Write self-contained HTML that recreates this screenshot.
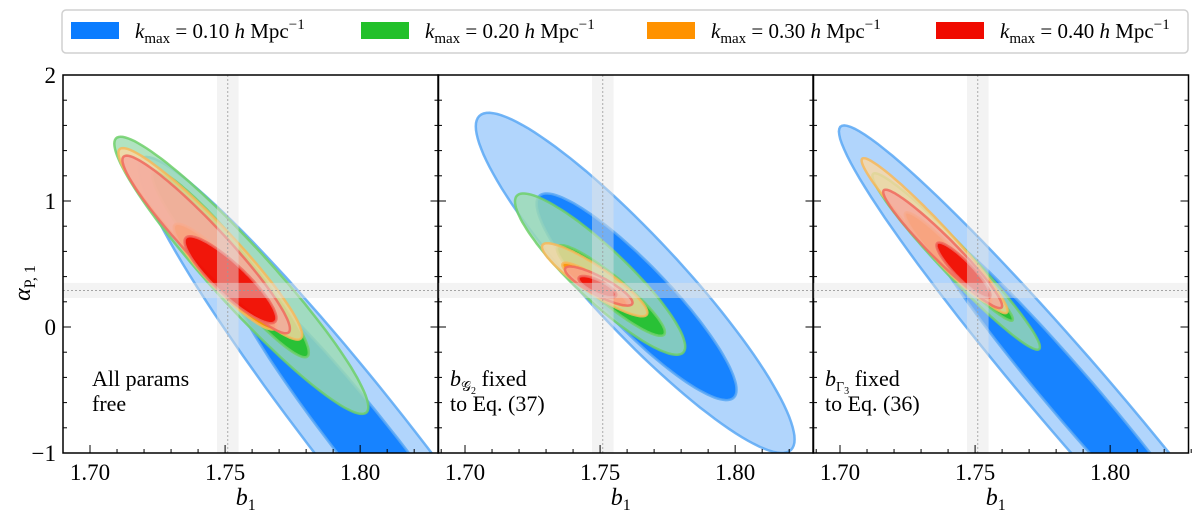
<!DOCTYPE html>
<html><head><meta charset="utf-8"><style>
html,body{margin:0;padding:0;background:#fff;width:1200px;height:518px;overflow:hidden;}
svg{display:block;}
text{font-family:"Liberation Serif","DejaVu Serif",serif;}
</style></head><body>
<svg id="chart" width="1200" height="518" viewBox="0 0 1200 518" xmlns="http://www.w3.org/2000/svg" font-family="Liberation Serif, serif">
<g id="legend">
<rect x="62" y="10" width="1126" height="43" rx="4" fill="#fff" stroke="#d0d0d0" stroke-width="1.5"/>
</g>
<g id="panels"></g>
<text transform="translate(30,283) rotate(-90)" text-anchor="middle" font-size="24" font-style="italic">α<tspan font-style="normal" font-size="16" dy="5">P, 1</tspan></text>
</svg>
<script>
// categories
const kmaxLabels = ["0.10", "0.20", "0.30", "0.40"];
const colors = ["#0a7cff", "#22c02a", "#ff9200", "#f00a00"];
const lightColors = ["#9ecbfb", "#9edcb2", "#fcd7a2", "#f6a89e"];
const edgeColors = ["#5aa8f5", "#6fd06a", "#f7b95a", "#f06a5e"];
const panelTitles = [["All params", "free"], ["b_G2 fixed", "to Eq. (37)"], ["b_G3 fixed", "to Eq. (36)"]];
const xTicks = [1.70, 1.75, 1.80];
const xTickLabels = ["1.70", "1.75", "1.80"];
const yTicks = [2, 1, 0, -1];
const yTickLabels = ["2", "1", "0", "\u22121"];
const fiducialB1 = 1.751;
const fiducialB1Err = 0.004;
const fiducialAlpha = 0.29;
const fiducialAlphaErr = 0.06;
// contours per panel: [kmaxIndex, level(0 outer,1 inner), cx, cy, ax, ay, rho]
const panel1Contours = [
 [0,0,1.803,-0.95,0.085,2.3,-0.967],[0,1,1.803,-0.95,0.052,1.4,-0.967],
 [1,0,1.756,0.41,0.047,1.1,-0.95],[1,1,1.752,0.5,0.029,0.74,-0.95],
 [2,0,1.7445,0.66,0.034,0.76,-0.95],[2,1,1.75,0.4,0.019,0.42,-0.92],
 [3,0,1.743,0.655,0.031,0.705,-0.95],[3,1,1.752,0.375,0.017,0.345,-0.88]];
const panel2Contours = [
 [0,0,1.763,0.35,0.059,1.35,-0.92],[0,1,1.7635,0.24,0.037,0.82,-0.9],
 [1,0,1.750,0.42,0.0315,0.64,-0.9],[1,1,1.754,0.29,0.02,0.36,-0.92],
 [2,0,1.748,0.375,0.0195,0.29,-0.9],[2,1,1.748,0.34,0.012,0.17,-0.9],
 [3,0,1.7495,0.325,0.0125,0.155,-0.85],[3,1,1.749,0.32,0.007,0.085,-0.75]];
const panel3Contours = [
 [0,0,1.788,-0.6,0.0884,2.2,-0.978],[0,1,1.788,-0.6,0.056,1.4,-0.978],
 [1,0,1.743,0.52,0.031,0.70,-0.97],[1,1,1.745,0.45,0.019,0.4,-0.97],
 [2,0,1.735,0.725,0.027,0.615,-0.97],[2,1,1.74,0.55,0.016,0.36,-0.95],
 [3,0,1.738,0.62,0.022,0.47,-0.96],[3,1,1.7457,0.45,0.01,0.22,-0.9]];
const allContours = [panel1Contours, panel2Contours, panel3Contours];

const NS = "http://www.w3.org/2000/svg";
const panelsG = document.getElementById("panels");
const legend = document.getElementById("legend");
const panelLeft = [63, 438, 813], panelW = 375.5, topY = 75, bottomY = 453;
const xMin = 1.69, xMax = 1.829, yMin = -1, yMax = 2;
function mk(tag, attrs, parent){const e=document.createElementNS(NS,tag);for(const k in attrs)e.setAttribute(k,attrs[k]);parent.appendChild(e);return e;}

const legX = [71, 361, 647, 936];
kmaxLabels.forEach((lab,i)=>{
  const r = mk("rect",{x:legX[i],y:22,width:48,height:17,fill:colors[i]},legend);
  
  
  const t = mk("text",{x:legX[i]+64,y:38,"font-size":21},legend);
  
  
  t.innerHTML = '<tspan font-style="italic">k</tspan><tspan font-size="15" dy="5">max</tspan><tspan dy="-5"> = '+lab+' </tspan><tspan font-style="italic">h</tspan><tspan> Mpc</tspan><tspan font-size="15" dy="-9">\u22121</tspan>';
});

allContours.forEach((contours,p)=>{
  const L = panelLeft[p];
  const sx = v => L + (v - xMin)/(xMax - xMin)*panelW;
  const sy = v => topY + (yMax - v)/(yMax - yMin)*(bottomY - topY);
  const g = mk("g",{},panelsG);
  
  
  const cp = mk("clipPath",{id:"clip"+p},g);
  mk("rect",{x:L,y:topY,width:panelW,height:bottomY-topY},cp);
  const cg = mk("g",{"clip-path":"url(#clip"+p+")"},g);
  contours.forEach(c=>{
    const [ki,lev,cx,cy,ax,ay,rho]=c;
    let d="";
    const s=Math.sqrt(1-rho*rho);
    for(let j=0;j<=120;j++){const t=j/120*2*Math.PI;
      const x=cx+ax*Math.cos(t), y=cy+ay*(rho*Math.cos(t)+s*Math.sin(t));
      d+=(j?"L":"M")+sx(x).toFixed(1)+","+sy(y).toFixed(1);}
    const path = mk("path",{d:d+"Z",fill:lev?colors[ki]:lightColors[ki],"fill-opacity":lev?0.92:0.8,stroke:edgeColors[ki],"stroke-opacity":0.85,"stroke-width":2.5},cg);
    
    
  });
  const vb = mk("rect",{x:sx(fiducialB1-fiducialB1Err),y:topY,width:sx(fiducialB1+fiducialB1Err)-sx(fiducialB1-fiducialB1Err),height:bottomY-topY,fill:"#e4e4e4","fill-opacity":0.45},cg);
  
  
  const hb = mk("rect",{x:L,y:sy(fiducialAlpha+fiducialAlphaErr),width:panelW,height:sy(fiducialAlpha-fiducialAlphaErr)-sy(fiducialAlpha+fiducialAlphaErr),fill:"#e4e4e4","fill-opacity":0.45},cg);
  
  
  mk("line",{x1:sx(fiducialB1),x2:sx(fiducialB1),y1:topY,y2:bottomY,stroke:"#999","stroke-width":0.8,"stroke-dasharray":"2,2"},cg);
  mk("line",{x1:L,x2:L+panelW,y1:sy(fiducialAlpha),y2:sy(fiducialAlpha),stroke:"#999","stroke-width":0.8,"stroke-dasharray":"2,2"},cg);
  for(let v=1.69;v<=1.83;v+=0.01){const X=sx(Math.round(v*100)/100);const maj=Math.abs(Math.round(v*100)%5)<1e-6;
    mk("line",{x1:X,x2:X,y1:bottomY,y2:bottomY-(maj?8:4),stroke:"#000","stroke-width":1},g);}
  for(let v=-1;v<=2.0001;v+=0.2){const Y=sy(v);const maj=Math.abs(v-Math.round(v))<1e-6;
    mk("line",{x1:L,x2:L+(maj?8:4),y1:Y,y2:Y,stroke:"#000","stroke-width":1},g);
    mk("line",{x1:L+panelW,x2:L+panelW-(maj?8:4),y1:Y,y2:Y,stroke:"#000","stroke-width":1},g);}
  const fr = mk("rect",{x:L,y:topY,width:panelW,height:bottomY-topY,fill:"none",stroke:"#000","stroke-width":1.5},g);
  
  
  xTicks.forEach((v,i)=>{const t=mk("text",{x:sx(v),y:480,"text-anchor":"middle","font-size":23},g);
    
    
    t.textContent=xTickLabels[i];});
  const xl = mk("text",{x:L+panelW/2-5,y:505,"text-anchor":"middle","font-size":24,"font-style":"italic"},g);
  
  
  xl.innerHTML='b<tspan font-style="normal" font-size="16" dy="5">1</tspan>';
  if(p===0){yTicks.forEach((v,i)=>{const t=mk("text",{x:56,y:sy(v)+8,"text-anchor":"end","font-size":23},g);
    
    
    t.textContent=yTickLabels[i];});}
  const ann = mk("text",{x:L+29,y:386,"font-size":22},g);
  
  
  const tl = panelTitles[p];
  if(p===0){ann.innerHTML='<tspan x="'+(L+29)+'">'+tl[0]+'</tspan><tspan x="'+(L+29)+'" dy="25">'+tl[1]+'</tspan>';}
  else{const sub = p===1?'\uD835\uDCA2':'\u0393';const n=p===1?'2':'3';
    ann.innerHTML='<tspan x="'+(L+12)+'" font-style="italic">b</tspan><tspan font-size="14" dy="5">'+sub+'</tspan><tspan font-size="10" dy="3">'+n+'</tspan><tspan dy="-8"> fixed</tspan><tspan x="'+(L+12)+'" dy="25">'+tl[1]+'</tspan>';}
});
</script>
</body></html>
